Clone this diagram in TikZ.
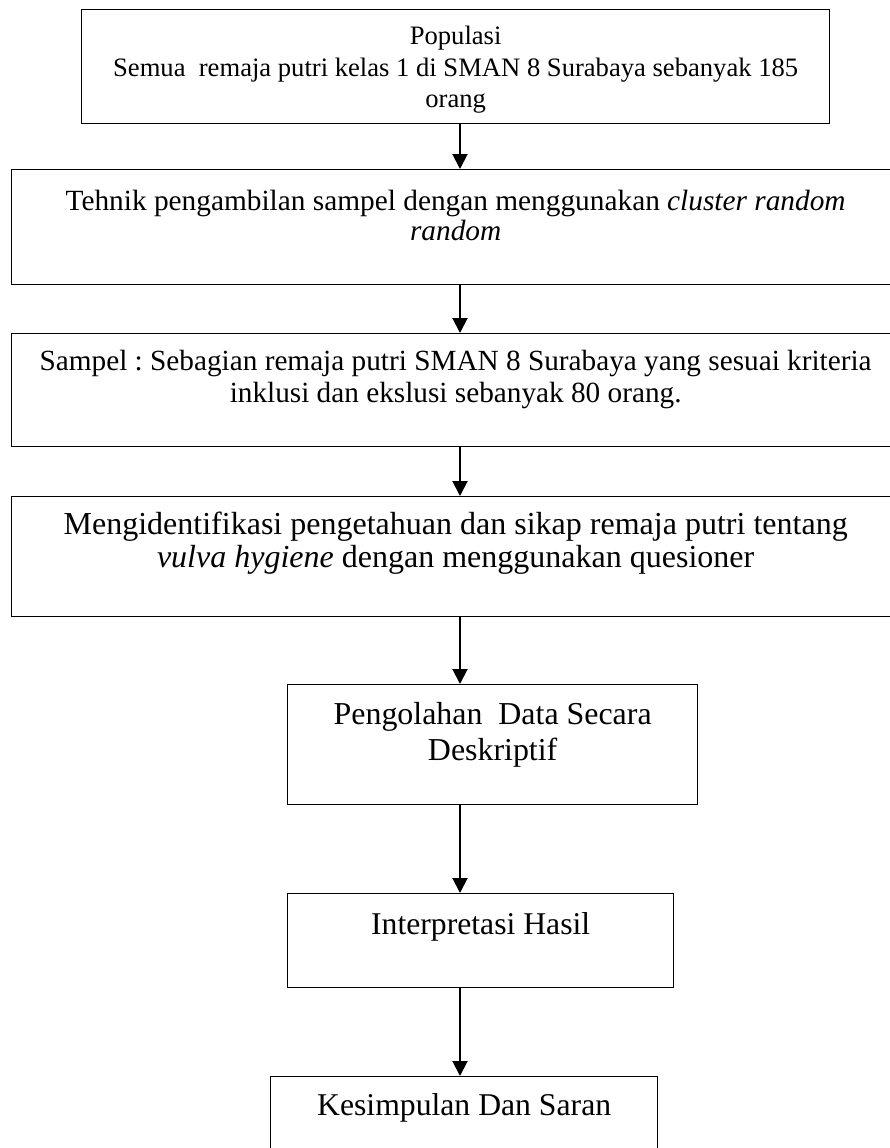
\documentclass[tikz,border=0pt]{standalone}
\usepackage{fontspec}
\setmainfont{Liberation Serif}
\usetikzlibrary{arrows.meta}
\frenchspacing
\newlength\fitlen
\newcommand\fitto[3]{\settowidth\fitlen{\fontsize{10pt}{12pt}\selectfont #3}\pgfmathsetmacro\fitsize{10*#1/\fitlen}\fontsize{\fitsize pt}{#2pt}\selectfont}
\newcommand\boxtext[5]{\parbox[t][#2pt][t]{#1pt}{\centering #3\rule{0pt}{#4pt}#5}}
\begin{document}
\begin{tikzpicture}[x=1pt,y=-1pt,
  fbox/.style={draw, line width=1.3pt, inner sep=0pt, anchor=north west},
  arr/.style={line width=2pt, -{Triangle[width=15pt,length=15pt]}}]
\useasboundingbox (0,0) rectangle (890,1148);
\clip (0,0) rectangle (890,1148);
\node[fbox] (b1) at (81,9) {\boxtext{748}{114}{\fitto{685}{31.5}{Semua\ \ remaja putri kelas 1 di SMAN 8 Surabaya sebanyak 185}}{35}{Populasi\\Semua\ \ remaja putri kelas 1 di SMAN 8 Surabaya sebanyak 185\\orang}};
\node[fbox] (b2) at (11,169) {\boxtext{888}{115}{\fitto{780}{30}{Tehnik pengambilan sampel dengan menggunakan \textit{cluster random}}}{41}{Tehnik pengambilan sampel dengan menggunakan \textit{cluster random}\\\textit{random}}};
\node[fbox] (b3) at (11,333) {\boxtext{888}{113}{\fitto{832}{32}{Sampel : Sebagian remaja putri SMAN 8 Surabaya yang sesuai kriteria}}{37}{Sampel : Sebagian remaja putri SMAN 8 Surabaya yang sesuai kriteria\\inklusi dan ekslusi sebanyak 80 orang.}};
\node[fbox] (b4) at (11,496) {\boxtext{888}{120}{\fitto{784}{33}{Mengidentifikasi pengetahuan dan sikap remaja putri tentang}}{38}{Mengidentifikasi pengetahuan dan sikap remaja putri tentang\\\textit{vulva hygiene} dengan menggunakan quesioner}};
\node[fbox] (b5) at (287,684) {\boxtext{410}{120}{\fitto{318}{36}{Pengolahan\ \ Data Secara}}{40}{Pengolahan\ \ Data Secara\\Deskriptif}};
\node[fbox] (b6) at (287,893) {\boxtext{386}{94}{\fitto{219}{36}{Interpretasi Hasil}}{41}{Interpretasi Hasil}};
\node[fbox] (b7) at (270,1076) {\boxtext{387}{130}{\fitto{294}{36}{Kesimpulan Dan Saran}}{39}{Kesimpulan Dan Saran}};
\coordinate (ax) at (460,0);
\draw[arr] (b1.south -| ax) -- (b2.north -| ax);
\draw[arr] (b2.south -| ax) -- (b3.north -| ax);
\draw[arr] (b3.south -| ax) -- (b4.north -| ax);
\draw[arr] (b4.south -| ax) -- (b5.north -| ax);
\draw[arr] (b5.south -| ax) -- (b6.north -| ax);
\draw[arr] (b6.south -| ax) -- (b7.north -| ax);
\end{tikzpicture}
\end{document}
